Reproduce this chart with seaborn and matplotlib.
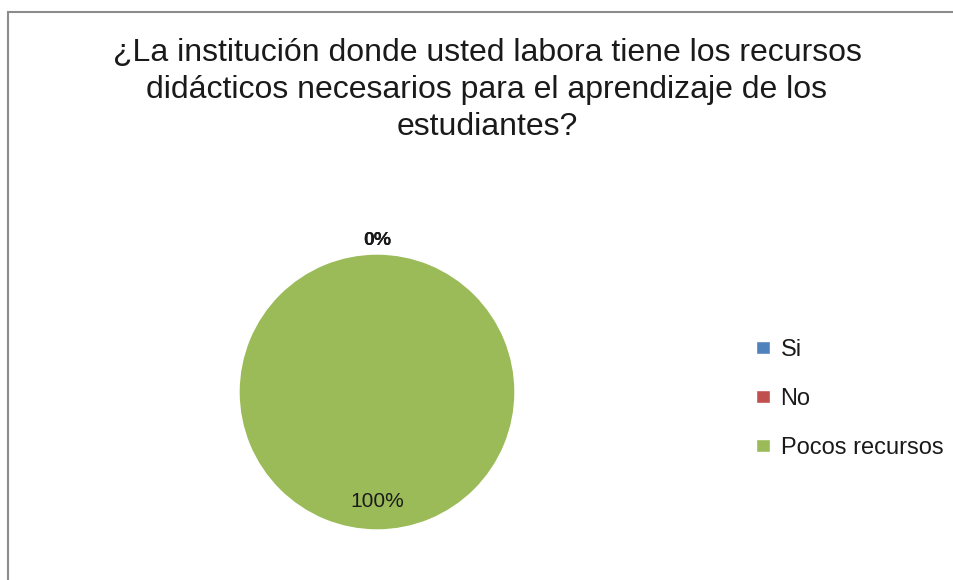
import matplotlib
matplotlib.use("Agg")
import matplotlib.pyplot as plt
import seaborn as sns
from matplotlib.patches import Rectangle

categories = ["Si", "No", "Pocos recursos"]
values = [0, 0, 100]
colors = ["#4F81BD", "#C0504D", "#9BBB59"]
title = "¿La institución donde usted labora tiene los recursos\ndidácticos necesarios para el aprendizaje de los\nestudiantes?"

sns.set_theme(style="white")
plt.rcParams['font.family'] = ['Liberation Sans', 'DejaVu Sans']

W, H = 954, 580
fig = plt.figure(figsize=(W / 100, H / 100), dpi=100)
fig.patch.set_facecolor("white")

# border of chart area
fig.add_artist(Rectangle((8.5 / W, -0.1), 1.2, 1 - 11.5 / H + 0.1,
                         transform=fig.transFigure, fill=False,
                         edgecolor="#8c8c8c", linewidth=1.5))

cx, cy, r = 377, 392, 138
ax = fig.add_axes([(cx - r) / W, (H - cy - r) / H, 2 * r / W, 2 * r / H])

total = sum(values)
labels = [f"{v / total * 100:.0f}%" if v == 0 else "" for v in values]
wedges, texts, autotexts = ax.pie(
    values, colors=colors, startangle=90, counterclock=False,
    labels=labels, labeldistance=1.1,
    autopct=lambda p: f"{p:.0f}%" if p > 0 else "", pctdistance=0.79,
    textprops=dict(fontsize=15, color="#1a1a1a"),
)
for t in texts:
    t.set_ha("center")
    t.set_fontweight("bold")
    t.set_fontsize(14)
ax.set_xlim(-1, 1)
ax.set_ylim(-1, 1)
ax.set_aspect("equal")
ax.axis("off")

fig.text(487 / W, 1 - 90 / H, title, ha="center", va="center",
         fontsize=23, linespacing=1.3, color="#1a1a1a")

fig.legend(wedges, categories, loc="center left",
           bbox_to_anchor=(744 / W, 1 - 399 / H), frameon=False,
           fontsize=17, handlelength=0.6, handleheight=0.45,
           handletextpad=0.45, labelspacing=1.15, borderpad=0,
           labelcolor="#1a1a1a")

fig.savefig("out.png", dpi=100, facecolor="white")
